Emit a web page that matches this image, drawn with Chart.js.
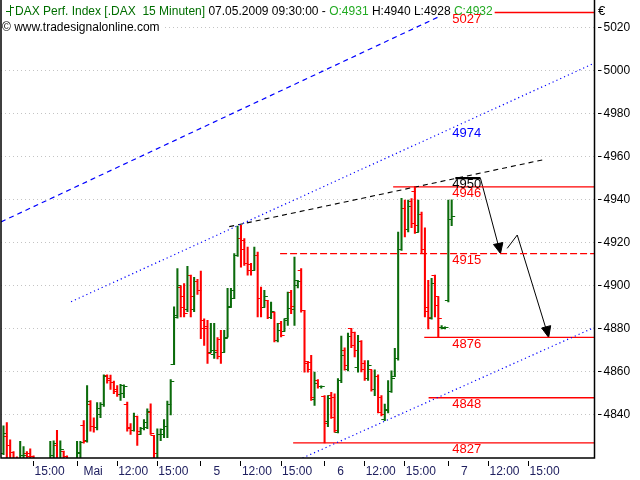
<!DOCTYPE html>
<html>
<head>
<meta charset="utf-8">
<script src="https://cdn.jsdelivr.net/npm/chart.js@4.4.0/dist/chart.umd.min.js"></script>
<style>
  html, body { margin: 0; padding: 0; background: #fff; }
  #wrap { width: 640px; height: 480px; position: relative; }
</style>
</head>
<body>
<div id="wrap"><canvas id="chart"></canvas></div>
<script>
// DAX 15 minute bars, 30.04.2009 afternoon .. 07.05.2009 09:30 (bar index = slot)
const opens = [
  4822, 4830, 4826, 4822.5, 4818, 4817, 4819, 4822, 4822, 4820.5, 4818, 4815, 4816, 4814, 4817, 4819, 4826, 4818, 4823, 4820.5, 4817, 4815,
  4818, 4822, 4835, 4828, 4845, 4834.5, 4834, 4840, 4845, 4858.5, 4857, 4855, 4852, 4849.5, 4850, 4845, 4834, 4833, 4839.3, 4831, 4833.6, 4834, 4841, 4830.5, 4820, 4830.9, 4831, 4834.6, 4844.9, 4863.4, 4886, 4899, 4895, 4889, 4905, 4889, 4902,
  4898, 4884, 4881, 4869, 4868, 4870, 4875, 4869, 4876, 4890, 4894, 4914, 4922, 4921, 4910.5, 4910, 4907, 4914, 4894, 4890, 4893, 4885.5, 4887.8, 4874.5, 4882.5, 4879, 4885, 4897, 4889, 4900, 4907, 4888.6, 4864.9, 4864.6, 4847, 4856, 4853,
  4848.5, 4837, 4849, 4848, 4832, 4856, 4870, 4861, 4880, 4878.5, 4862, 4874, 4864, 4857, 4861, 4852, 4858, 4848, 4838, 4842, 4851, 4858, 4866, 4917, 4936, 4926, 4939, 4944, 4925, 4933, 4917, 4890, 4885, 4904.9, 4895, 4880.5, 4880.3,
  4893, 4931
];
const highs = [
  4835, 4836.5, 4828.5, 4823, 4820.5, 4827.8, 4825.3, 4823, 4824.3, 4821, 4819.5, 4818, 4819, 4818, 4827.8, 4828, 4832.8, 4828, 4823.2, 4821, 4819, 4819.5,
  4827.8, 4827.8, 4837.4, 4853.7, 4846.7, 4838.7, 4845.7, 4845.7, 4858.7, 4858.7, 4858.5, 4855.7, 4853.7, 4854.2, 4854, 4846, 4836, 4840.9, 4839.5, 4834.3, 4837.8, 4842.9, 4845.2, 4830.5, 4833.6, 4833.6, 4837.8, 4846.4, 4856.4, 4890.2, 4908, 4900, 4901, 4909, 4905, 4904, 4903,
  4906.9, 4884.7, 4884, 4882.6, 4882.6, 4876, 4879.3, 4879.3, 4898.8, 4898.8, 4915, 4927.7, 4928.1, 4922, 4918, 4910.5, 4918, 4915.7, 4899.4, 4897.9, 4893.3, 4892.5, 4887.8, 4882.6, 4883.5, 4884.7, 4897.1, 4897.9, 4913.4, 4902.6, 4908, 4888.6, 4864.9, 4867.7, 4859.9, 4856.4, 4853.5,
  4849, 4849, 4850.5, 4849.8, 4856.9, 4876.6, 4871.2, 4878, 4880.3, 4878.5, 4877, 4874.5, 4865.3, 4865.3, 4861, 4861, 4858.7, 4849, 4845, 4856, 4860.5, 4871, 4925, 4940.6, 4939.8, 4939.8, 4940.5, 4946, 4939.8, 4934.3, 4927, 4902.6, 4903.5, 4905, 4895, 4881.5, 4881,
  4939.8, 4940
];
const lows = [
  4821.6, 4818, 4819, 4818, 4815, 4815, 4817, 4818, 4818, 4816, 4813, 4811, 4812, 4811, 4815, 4816, 4815, 4815, 4816, 4815, 4812, 4812,
  4816, 4819, 4826.9, 4827.4, 4832.5, 4832, 4833, 4838.7, 4844, 4854.8, 4851.9, 4849.9, 4848.6, 4846.7, 4848, 4832.5, 4831, 4832.5, 4825.8, 4830.9, 4833, 4833.6, 4830.9, 4818, 4818, 4828.1, 4829.4, 4829.4, 4840, 4863.4, 4885, 4885.5, 4885.5, 4888, 4885.5, 4888, 4896,
  4875.4, 4872.3, 4864, 4869, 4866.3, 4866, 4864, 4869, 4876.2, 4890, 4894, 4913.7, 4908.7, 4909.5, 4904.9, 4904.9, 4907.2, 4885.5, 4885.5, 4890, 4884.7, 4884.7, 4873.9, 4873.9, 4876.2, 4878.8, 4881.6, 4887.1, 4881.6, 4899, 4887.8, 4859.9, 4859.9, 4846.7, 4844.4, 4852.5, 4852.5,
  4827, 4834.5, 4838.4, 4832, 4831.6, 4855, 4860.8, 4860.5, 4871.3, 4867, 4859.9, 4860, 4856, 4856, 4851, 4849, 4840.9, 4839.5, 4837.4, 4841, 4850.5, 4857.8, 4865.5, 4916.5, 4922.7, 4925, 4927, 4924.3, 4925, 4915, 4885.5, 4880, 4884.5, 4885.5, 4876, 4880, 4880,
  4892.5, 4928
];
const closes = [
  4831.5, 4826, 4822.5, 4819, 4817, 4821, 4821, 4820.5, 4819.5, 4818, 4815, 4816, 4814, 4817, 4821, 4826.6, 4820, 4824, 4819.5, 4817, 4815, 4818,
  4822.7, 4827.4, 4827.5, 4846.3, 4834.5, 4834, 4842.9, 4845, 4858, 4856, 4855, 4851, 4849.5, 4853.5, 4853, 4833.5, 4833, 4839.3, 4832.5, 4833.6, 4836.5, 4841.5, 4831.5, 4822, 4830.9, 4833.4, 4834.6, 4844.9, 4855.7, 4885.3, 4900, 4890, 4887, 4905, 4895, 4902, 4898,
  4880, 4880.2, 4868.6, 4870, 4869, 4867, 4869, 4875.4, 4890.2, 4897.9, 4914, 4922, 4917, 4910.5, 4907, 4907, 4914, 4894.2, 4890, 4895, 4885.5, 4888, 4874.5, 4879.3, 4877, 4884, 4889.5, 4890.5, 4902.6, 4902, 4888.6, 4864, 4861, 4848, 4854.8, 4853, 4853.3,
  4836, 4847.6, 4839, 4833, 4856, 4867.7, 4863, 4876.5, 4872.5, 4870, 4874, 4861, 4857, 4863, 4852, 4858, 4841, 4840, 4842.5, 4851, 4857, 4866, 4917, 4936, 4926, 4937, 4929, 4928, 4933, 4917, 4888, 4885.5, 4901, 4891, 4885, 4880.6, 4880.7,
  4931, 4932
];

// time axis: bar slot of each label
const timeTickIdx = [9, 22, 34, 46, 59, 71, 83, 96, 108, 120, 133, 145, 157];
const timeTickLabels = ["15:00", "Mai", "12:00", "15:00", "5", "12:00", "15:00", "6", "12:00", "15:00", "7", "12:00", "15:00"];
const priceTicks = [4840, 4860, 4880, 4900, 4920, 4940, 4960, 4980, 5000, 5020];

// horizontal levels and the bar slot where each starts
const levelPrices = [5027, 4946, 4915, 4876, 4848, 4827];
const levelStarts = [133, 116.5, 82.7, 125.8, 127.1, 86.6];

// trend lines as [slot, price] pairs
const upperChannel = [[-0.74, 4929.7], [141, 5032.9]];
const midChannel = [[20.2, 4892.6], [176.7, 5003.5]];
const lowChannel = [[89.4, 4820], [176.7, 4880.7]];
const resistance = [[67.5, 4927.5], [162, 4958.8]];
const arrowTop = [[135.1, 4950], [142.6, 4950]];
const arrowOne = [[142.6, 4950], [148.6, 4915]];
const arrowOneHead = [[146.5, 4919.2], [148.6, 4915], [149.3, 4920.1], [146.5, 4919.2]];
const arrowTwo = [[150.6, 4917.4], [153.6, 4923.6], [163.0, 4876]];
const arrowTwoHead = [[160.9, 4880.4], [163.0, 4876], [163.6, 4881.5], [160.9, 4880.4]];

const labelPrices = [5027, 4974, 4950, 4946, 4915, 4876, 4848, 4827];
const labelColors = ["#ff0000", "#0000ff", "#000000", "#ff0000", "#ff0000", "#ff0000", "#ff0000", "#ff0000"];
const LABEL_SLOT = 134.2;

const UP = "#0b6b0b";
const DOWN = "#ff0000";
const FONT = "'Liberation Sans', Arial, sans-serif";

function tickMark(color, left) {
  const c = document.createElement("canvas");
  c.width = 9;
  c.height = 1;
  const g = c.getContext("2d");
  g.fillStyle = color;
  if (left) g.fillRect(1, 0, 4, 1);
  else g.fillRect(4, 0, 4, 1);
  return c;
}
const openUp = tickMark(UP, true), openDown = tickMark(DOWN, true);
const closeUp = tickMark(UP, false), closeDown = tickMark(DOWN, false);
const isUp = (i) => closes[i] >= opens[i];

const pts = (arr) => arr.map((p) => ({ x: p[0], y: p[1] }));
function lineSet(arr, color, width, dash) {
  return {
    type: "line",
    data: pts(arr),
    borderColor: color,
    borderWidth: width,
    borderDash: dash,
    pointRadius: 0,
    tension: 0,
    fill: false,
  };
}
function headSet(arr) {
  const d = lineSet(arr, "#000000", 1, []);
  d.fill = "shape";
  d.backgroundColor = "#000000";
  return d;
}

const datasets = [
  {
    type: "bar",
    data: lows.map((l, i) => ({ x: i, y: [l, highs[i]] })),
    backgroundColor: (ctx) => (isUp(ctx.dataIndex) ? UP : DOWN),
    barThickness: 1.4,
    borderWidth: 0,
    grouped: false,
  },
  {
    type: "line",
    showLine: false,
    data: opens.map((v, i) => ({ x: i, y: v })),
    pointStyle: (ctx) => (isUp(ctx.dataIndex) ? openUp : openDown),
    pointRadius: 1,
  },
  {
    type: "line",
    showLine: false,
    data: closes.map((v, i) => ({ x: i, y: v })),
    pointStyle: (ctx) => (isUp(ctx.dataIndex) ? closeUp : closeDown),
    pointRadius: 1,
  },
  lineSet(upperChannel, "#0000ff", 1.2, [5, 4]),
  lineSet(midChannel, "#0000ff", 1.2, [1.2, 3]),
  lineSet(lowChannel, "#0000ff", 1.2, [1.2, 3]),
  lineSet(resistance, "#000000", 1.1, [5, 4]),
];
levelPrices.forEach((p, k) => {
  datasets.push(lineSet([[levelStarts[k], p], [177, p]], "#ff0000", 1.3, p === 4915 ? [7, 3] : []));
});
datasets.push(lineSet(arrowTop, "#000000", 2.2, []));
datasets.push(lineSet(arrowOne, "#000000", 1, []));
datasets.push(headSet(arrowOneHead));
datasets.push(lineSet(arrowTwo, "#000000", 1, []));
datasets.push(headSet(arrowTwoHead));

const overlay = {
  id: "overlay",
  afterDraw(chart) {
    const { ctx, chartArea, scales } = chart;
    ctx.save();
    ctx.font = "12px " + FONT;
    ctx.textBaseline = "alphabetic";
    const parts = [
      ["DAX Perf. Index [.DAX  15 Minuten] ", "#006e00"],
      ["07.05.2009 09:30:00 - ", "#000000"],
      ["O:4931", "#22aa22"],
      [" H:4940 L:4928 ", "#000000"],
      ["C:4932", "#22aa22"],
    ];
    let w = 0;
    parts.forEach((p) => (w += ctx.measureText(p[0]).width));
    ctx.fillStyle = "#fff";
    ctx.fillRect(2, 0, 15 + w, 16);
    let x = 15;
    parts.forEach((p) => {
      ctx.fillStyle = p[1];
      ctx.fillText(p[0], x, 15);
      x += ctx.measureText(p[0]).width;
    });
    // bar icon
    ctx.strokeStyle = "#006e00";
    ctx.lineWidth = 1;
    ctx.beginPath();
    ctx.moveTo(10.5, 5); ctx.lineTo(10.5, 16);
    ctx.moveTo(6, 11.5); ctx.lineTo(10.5, 11.5);
    ctx.moveTo(10.5, 7.5); ctx.lineTo(14, 7.5);
    ctx.stroke();

    const line2 = "\u00a9 www.tradesignalonline.com";
    ctx.fillStyle = "#fff";
    ctx.fillRect(2, 18, ctx.measureText(line2).width + 3, 16);
    ctx.fillStyle = "#000";
    ctx.fillText(line2, 2, 31);

    ctx.font = "13px " + FONT;
    ctx.fillText("\u20ac", 598, 15);

    // level labels
    ctx.textBaseline = "top";
    ctx.textAlign = "left";
    const lx = scales.x.getPixelForValue(LABEL_SLOT);
    labelPrices.forEach((p, k) => {
      ctx.fillStyle = labelColors[k];
      ctx.fillText(String(p), lx, scales.y.getPixelForValue(p));
    });

    // frame
    ctx.strokeStyle = "#000";
    ctx.lineWidth = 1.5;
    ctx.beginPath();
    ctx.moveTo(1, 0);
    ctx.lineTo(1, chartArea.bottom);
    ctx.lineTo(chartArea.right, chartArea.bottom);
    ctx.lineTo(chartArea.right, 0);
    ctx.stroke();
    ctx.restore();
  },
};

new Chart(document.getElementById("chart"), {
  type: "bar",
  data: { datasets: datasets },
  options: {
    responsive: true,
    maintainAspectRatio: false,
    animation: false,
    events: [],
    layout: { autoPadding: false, padding: { left: 1, top: 0, right: 0, bottom: 0 } },
    plugins: { legend: { display: false }, tooltip: { enabled: false } },
    scales: {
      x: {
        type: "linear",
        position: "bottom",
        offset: false,
        min: -0.74,
        max: 176.7,
        afterBuildTicks: (axis) => {
          axis.ticks = timeTickIdx.map((v) => ({ value: v }));
        },
        afterFit: (axis) => {
          axis.height = 22;
          axis.paddingLeft = 0;
          axis.paddingRight = 0;
        },
        ticks: {
          autoSkip: false,
          maxRotation: 0,
          labelOffset: 16,
          padding: -2,
          color: "#202060",
          font: { family: FONT, size: 12 },
          callback: (v, i) => timeTickLabels[i],
        },
        grid: {
          offset: false,
          drawOnChartArea: false,
          tickLength: 8,
          tickColor: "#000",
          tickBorderDash: [0, 3, 5, 20],
        },
        border: { display: false },
      },
      y: {
        position: "right",
        min: 4820,
        max: 5032.8,
        afterBuildTicks: (axis) => {
          axis.ticks = priceTicks.map((v) => ({ value: v }));
        },
        afterFit: (axis) => {
          axis.width = 45.5;
          axis.paddingTop = 0;
          axis.paddingBottom = 0;
        },
        ticks: {
          padding: 2,
          color: "#000",
          font: { family: FONT, size: 12 },
          callback: (v) => String(v),
        },
        grid: {
          color: "#c4c4c4",
          tickLength: 7,
          tickColor: "#000",
          tickBorderDash: [0, 3, 4, 20],
        },
        border: { display: false, dash: [1, 3] },
      },
    },
  },
  plugins: [overlay],
});
</script>
</body>
</html>
